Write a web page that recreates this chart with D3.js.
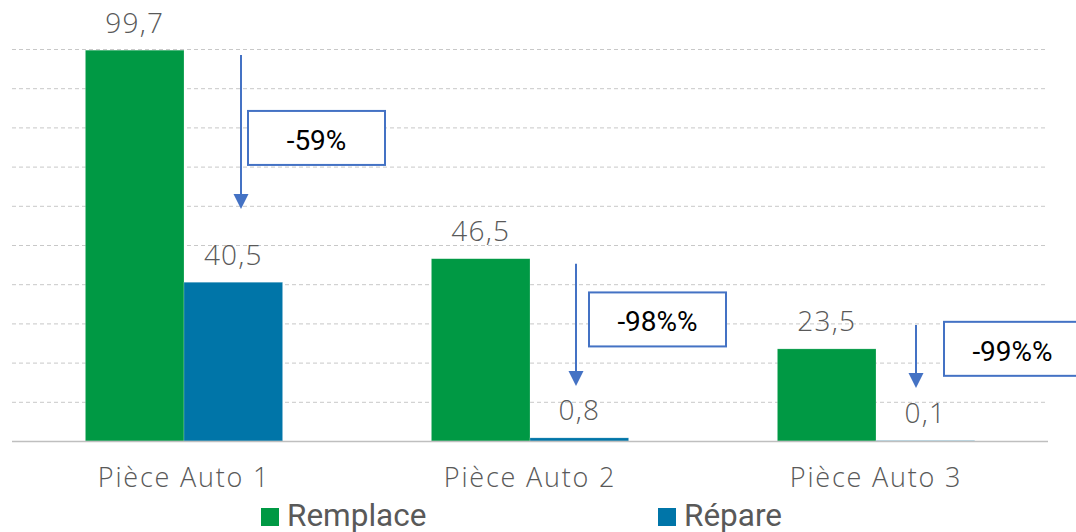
<!DOCTYPE html>
<html><head><meta charset="utf-8">
<script src="https://cdn.jsdelivr.net/npm/d3@7"></script>
<style>
html,body{margin:0;padding:0;background:#fff;}
svg{display:block;}
</style></head>
<body>
<svg id="chart" width="1076" height="532"></svg>
<script>
// ---- data ----
const categories = ["Pièce Auto 1", "Pièce Auto 2", "Pièce Auto 3"];
const seriesNames = ["Remplace", "Répare"];
const remplace = [99.7, 46.5, 23.5];
const repare = [40.5, 0.8, 0.1];
const valueLabels = [["99,7", "46,5", "23,5"], ["40,5", "0,8", "0,1"]];
const changeLabels = ["-59%", "-98%%", "-99%%"];
const gridTicks = [0, 10, 20, 30, 40, 50, 60, 70, 80, 90, 100];
// arrows: value range they span (top, tip)
const arrowFrom = [98.5, 45.2, 29.6];
const arrowTo = [59.2, 14.0, 13.5];
const boxTopVal = [84.2, 37.9, 30.4];

// ---- layout ----
const svg = d3.select("#chart");
const colors = ["#009944", "#0075A8"];
const arrowColor = "#4472C4";
const textGray = "#595959";

const x = d3.scaleBand().domain(categories).range([11, 1049]).paddingInner(0.43).paddingOuter(0.215);
const xs = d3.scaleBand().domain(seriesNames).range([0, x.bandwidth()]);
const y = d3.scaleLinear().domain([0, 100]).range([441, 49]);

// gridlines
svg.append("g").selectAll("line").data(gridTicks.filter(d => d > 0)).join("line")
  .attr("x1", 12).attr("x2", 1048)
  .attr("y1", d => y(d) + 0.5).attr("y2", d => y(d) + 0.5)
  .attr("stroke", "#c8c8c8").attr("stroke-width", 1).attr("stroke-dasharray", "4,3");

const series = [remplace, repare];
series.forEach((vals, si) => {
  const g = svg.append("g");
  g.selectAll("rect").data(vals).join("rect")
    .attr("x", (d, i) => x(categories[i]) + xs(seriesNames[si]))
    .attr("width", xs.bandwidth())
    .attr("y", d => y(d))
    .attr("height", d => y(0) - y(d))
    .attr("fill", colors[si])
    .attr("stroke", "rgba(255,255,255,0.35)").attr("stroke-width", 0.6);
  g.selectAll("text").data(vals).join("text")
    .attr("x", (d, i) => x(categories[i]) + xs(seriesNames[si]) + xs.bandwidth() / 2)
    .attr("y", d => y(d) - 17.5)
    .attr("text-anchor", "middle")
    .attr("font-family", "'Open Sans', sans-serif").attr("font-weight", 300)
    .attr("font-size", 28).attr("letter-spacing", 1.2).attr("fill", textGray)
    .text((d, i) => valueLabels[si][i]);
});

// baseline axis
svg.append("line").attr("x1", 12).attr("x2", 1048).attr("y1", y(0) + 0.5).attr("y2", y(0) + 0.5)
  .attr("stroke", "#bfbfbf").attr("stroke-width", 1.5);

// category labels
const xAxis = d3.axisBottom(x).tickSize(0).tickPadding(0);
const ax = svg.append("g").attr("transform", `translate(0,${y(0)})`).call(xAxis);
ax.select(".domain").remove();
ax.selectAll("text").attr("dy", null).attr("y", 46)
  .attr("font-family", "'Open Sans', sans-serif").attr("font-weight", 300)
  .attr("font-size", 27).attr("letter-spacing", 1.8).attr("fill", textGray);

// annotations
const arrowDx = [57, 46, 40];
const boxDx = [7, 13, 28];
const boxW = [137, 137, 140];
const boxH = 54;
const ann = svg.append("g");
categories.forEach((c, i) => {
  const ax0 = x(c) + x.bandwidth() / 2 + arrowDx[i];
  const yTop = y(arrowFrom[i]), yTip = y(arrowTo[i]);
  ann.append("line").attr("x1", ax0).attr("x2", ax0).attr("y1", yTop).attr("y2", yTip - 12)
    .attr("stroke", arrowColor).attr("stroke-width", 2);
  ann.append("path").attr("d", `M${ax0 - 7.5},${yTip - 15} L${ax0 + 7.5},${yTip - 15} L${ax0},${yTip} Z`)
    .attr("fill", arrowColor);
  const bx = ax0 + boxDx[i], by = y(boxTopVal[i]);
  ann.append("rect").attr("x", bx).attr("y", by).attr("width", boxW[i]).attr("height", boxH)
    .attr("fill", "#fff").attr("stroke", arrowColor).attr("stroke-width", 2);
  ann.append("text").attr("x", bx + 68.5).attr("y", by + 39)
    .attr("text-anchor", "middle").attr("font-family", "Roboto, sans-serif")
    .attr("font-size", 28).attr("fill", "#000").text(changeLabels[i]);
});

// legend
const legendX = [261, 658];
const lg = svg.append("g");
seriesNames.forEach((s, i) => {
  lg.append("rect").attr("x", legendX[i]).attr("y", 508).attr("width", 18).attr("height", 18).attr("fill", colors[i]);
  lg.append("text").attr("x", legendX[i] + 26).attr("y", 526)
    .attr("font-family", "Roboto, sans-serif").attr("font-size", 31.5).attr("fill", textGray).text(s);
});
</script>
</body></html>
